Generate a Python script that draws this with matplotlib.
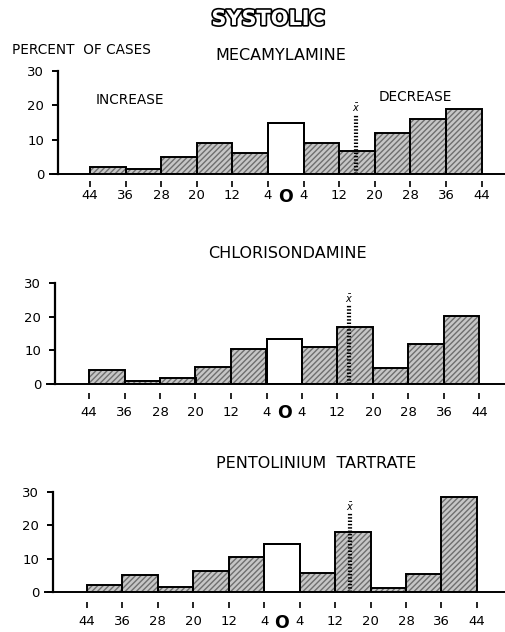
import matplotlib
matplotlib.use('Agg')
import matplotlib.pyplot as plt
import matplotlib.transforms as mtransforms
import matplotlib.patheffects as pe

# ---------------- data ----------------
bin_labels = ['44', '36', '28', '20', '12', '4', '4', '12', '20', '28', '36', '44']
open_bin = 5  # the "no change" bin (4 increase .. 4 decrease)

mecamylamine = [2, 1.5, 5, 9, 6, 15, 9, 6.7, 12, 16, 19]
chlorisondamine = [4.2, 1, 1.8, 5, 10.3, 13.5, 11, 16.8, 4.7, 11.8, 20.3]
pentolinium = [2, 5, 1.5, 6.2, 10.5, 14.5, 5.8, 18, 1.2, 5.4, 28.5]

panel_names = ['MECAMYLAMINE', 'CHLORISONDAMINE', 'PENTOLINIUM  TARTRATE']
mean_decrease = [15.8, 14.6, 15.4]     # mm Hg decrease (mean marker)
mean_marker_top = [20.8, 27, 27]       # height of mean marker
yticks = [0, 10, 20, 30]

# ---------------- layout (pixels) ----------------
W, H = 506, 632
fig = plt.figure(figsize=(W / 100, H / 100), dpi=100)
plt.rcParams['font.family'] = ['DejaVu Sans']

layout = [
    dict(base=174, top=71, x0=90, ppu=35.6, yax=58, mark=10, lab=21, title=(281, 55)),
    dict(base=384, top=283, x0=89, ppu=35.5, yax=55, mark=11.5, lab=28, title=(287, 254)),
    dict(base=592, top=492, x0=87, ppu=35.45, yax=53, mark=12.5, lab=29, title=(316, 463)),
]
data = [mecamylamine, chlorisondamine, pentolinium]


def mean_pos(v):
    # convert mm Hg decrease into bin-edge coordinate (edge 6 -> 4, edge 7 -> 12, ...)
    return 6 + (v - 4) / 8.0


for i, L in enumerate(layout):
    vals = data[i]
    left_px = L['yax'] - 8
    ax = fig.add_axes([left_px / W, 1 - L['base'] / H,
                       (W - left_px) / W, (L['base'] - L['top']) / H])
    ax.set_xlim((left_px - L['x0']) / L['ppu'], (W - L['x0']) / L['ppu'])
    ax.set_ylim(0, 30)
    ax.patch.set_visible(False)

    for s in ['top', 'right']:
        ax.spines[s].set_visible(False)
    ax.spines['left'].set_position(('data', (L['yax'] - L['x0']) / L['ppu']))
    ax.spines['left'].set_linewidth(1.6)
    ax.spines['bottom'].set_linewidth(1.4)

    centers = [k + 0.5 for k in range(len(vals))]
    hatched = [k for k in range(len(vals)) if k != open_bin]
    ax.bar([centers[k] for k in hatched], [vals[k] for k in hatched], width=1.0,
           facecolor='#c6c6c6', edgecolor='#6e6e6e', hatch='//////', linewidth=0, zorder=2)
    ax.bar([centers[open_bin]], [vals[open_bin]], width=1.0,
           facecolor='white', edgecolor='black', linewidth=1.3, zorder=2)
    ax.bar(centers, vals, width=1.0, facecolor='none', edgecolor='black',
           linewidth=1.4, zorder=3)

    # mean marker
    mp = mean_pos(mean_decrease[i])
    ax.vlines(mp, 0, mean_marker_top[i] - 3.2, colors='black', linewidth=3,
              linestyles=(0, (0.35, 0.45)), zorder=4)
    ax.text(mp, mean_marker_top[i] - 1.6, r'$\bar{x}$', ha='center', va='center',
            fontsize=7, zorder=5)

    # y axis
    ax.set_yticks(yticks)
    ax.set_yticklabels([str(t) for t in yticks], fontsize=9.5)
    ax.tick_params(axis='y', direction='out', length=4, width=1.4, pad=6)

    # x axis labels with detached tick marks
    ax.set_xticks(range(len(bin_labels)))
    ax.set_xticklabels(bin_labels, fontsize=9.5)
    ax.tick_params(axis='x', length=0, pad=(L['lab'] - 6) / 1.389)
    mark_tr = ax.get_xaxis_transform() + mtransforms.ScaledTranslation(
        0, -L['mark'] / 100, fig.dpi_scale_trans)
    ax.plot(range(len(bin_labels)), [0] * len(bin_labels), ls='none', marker='|',
            ms=4.5, mew=1.2, color='black', transform=mark_tr, clip_on=False)
    o_tr = ax.get_xaxis_transform() + mtransforms.ScaledTranslation(
        0, -(L['lab'] + 1.5) / 100, fig.dpi_scale_trans)
    ax.text(open_bin + 0.5, 0, 'O', transform=o_tr, ha='center', va='center',
            fontsize=12.5, fontweight='bold')

    # panel title
    tx, ty = L['title']
    fig.text(tx / W, 1 - ty / H, panel_names[i], ha='center', va='center', fontsize=11.5)

    if i == 0:
        ax.text(1.12, 21.5, 'INCREASE', ha='center', va='center', fontsize=9.8)
        ax.text(9.13, 22.4, 'DECREASE', ha='center', va='center', fontsize=9.8)

fig.text(268 / W, 1 - 19 / H, 'SYSTOLIC', ha='center', va='center', fontsize=15,
         fontweight='bold', color='white',
         path_effects=[pe.withStroke(linewidth=2.4, foreground='black')])
fig.text(12 / W, 1 - 50 / H, 'PERCENT  OF CASES', ha='left', va='center', fontsize=9.8)

fig.savefig('out.png', dpi=100)
